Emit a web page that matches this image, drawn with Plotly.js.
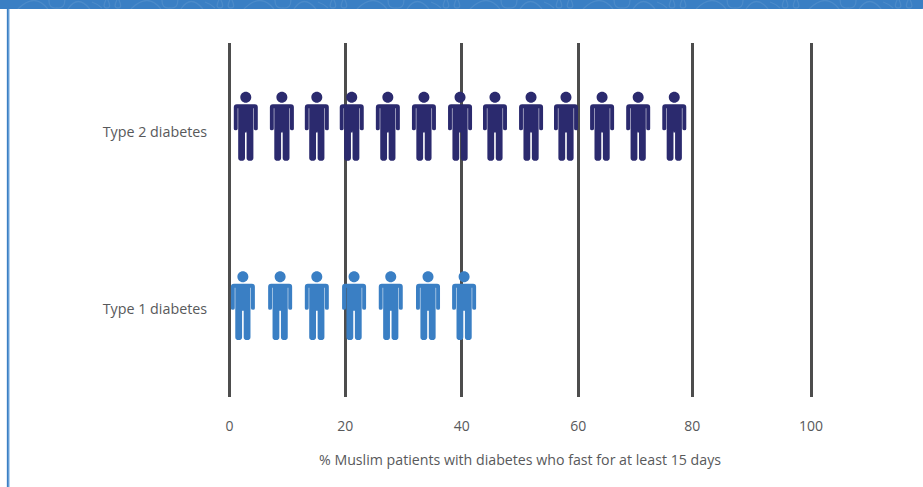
<!DOCTYPE html>
<html>
<head>
<meta charset="utf-8">
<script src="https://cdn.plot.ly/plotly-3.0.1.min.js"></script>
<style>html,body{margin:0;padding:0;background:#fff}#c{width:923px;height:487px}</style>
</head>
<body>
<div id="c"></div>
<script>
const categories = ["Type 1 diabetes", "Type 2 diabetes"];
const type2People = [2.9, 9.1, 15.1, 21.1, 27.3, 33.5, 39.7, 45.7, 51.9, 57.9, 64.1, 70.3, 76.5];
const type1People = [2.4, 8.8, 15.1, 21.5, 27.8, 34.2, 40.4];
const tickValues = [0.1, 20, 40, 60, 79.6, 100];
const tickLabels = ["0", "20", "40", "60", "80", "100"];
const xTitle = "% Muslim patients with diabetes who fast for at least 15 days";

const W = 923, H = 487, PAD = 0.5, PX_PER_UNIT = 5.82;
const L = 229 - PAD * PX_PER_UNIT, R = 811 + PAD * PX_PER_UNIT, T = 43, B = 397;
const DARK = "#2b2a6e", BLUE = "#3a7fc4", TEXT = "#58595b";

function personPath(top) {
  // offsets in pixels from the anchor; top = head centre above the anchor; y counted upward
  const p = (x, y) => x + "," + (top - y);
  const k = 3.04;
  return [
    "M", p(-5.5, 0), "C", p(-5.5, -k), p(-k, -5.5), p(0, -5.5), "C", p(k, -5.5), p(5.5, -k), p(5.5, 0),
    "C", p(5.5, k), p(k, 5.5), p(0, 5.5), "C", p(-k, 5.5), p(-5.5, k), p(-5.5, 0), "Z",
    "M", p(-12, 10), "Q", p(-12, 7), p(-9, 7), "L", p(9, 7), "Q", p(12, 7), p(12, 10),
    "L", p(12, 31.5), "Q", p(12, 33), p(10.2, 33), "Q", p(8.1, 33), p(8.1, 31.5),
    "L", p(8.1, 11), "L", p(7.6, 11), "L", p(7.6, 60.6), "Q", p(7.6, 63.4), p(4.2, 63.4),
    "Q", p(0.8, 63.4), p(0.8, 60.6), "L", p(0.8, 34), "L", p(-0.8, 34), "L", p(-0.8, 60.6),
    "Q", p(-0.8, 63.4), p(-4.2, 63.4), "Q", p(-7.6, 63.4), p(-7.6, 60.6), "L", p(-7.6, 11),
    "L", p(-8.1, 11), "L", p(-8.1, 31.5), "Q", p(-8.1, 33), p(-10.2, 33),
    "Q", p(-12, 33), p(-12, 31.5), "Z"
  ].join(" ");
}

function peopleShapes(values, category, color, top) {
  return values.map(v => ({
    type: "path", layer: "above", xref: "x", yref: "y",
    xsizemode: "pixel", ysizemode: "pixel", xanchor: v, yanchor: category,
    path: personPath(top), fillcolor: color, line: {width: 0}
  }));
}

const fx = px => (px - L) / (R - L);
const fy = py => (B - py) / (B - T);
const P = (x, y) => fx(x) + "," + fy(y);
function band(x0, y0, x1, y1, color) {
  return {type: "rect", xref: "paper", yref: "paper", layer: "below",
    x0: fx(x0), x1: fx(x1), y0: fy(y0), y1: fy(y1), fillcolor: color, line: {width: 0}};
}
function motif(o) {
  const strokes = [
    `M ${P(o + 18, 9)} Q ${P(o + 35, -8)} ${P(o + 48, 9)}`,
    `M ${P(o + 49, 0)} Q ${P(o + 49, 9)} ${P(o + 57, 8)} Q ${P(o + 65, 9)} ${P(o + 65, 0)}`,
    `M ${P(o + 68, 9)} Q ${P(o + 78, -6)} ${P(o + 90, 9)}`,
    `M ${P(o + 92, 2)} Q ${P(o + 98, 4)} ${P(o + 102, 8)}`,
    `M ${P(o + 106, 0)} Q ${P(o + 102, 8)} ${P(o + 107, 8)} Q ${P(o + 112, 8)} ${P(o + 108, 0)}`,
    `M ${P(o + 117, 0)} Q ${P(o + 113, 8)} ${P(o + 118, 8)} Q ${P(o + 123, 8)} ${P(o + 119, 0)}`
  ];
  return {type: "path", xref: "paper", yref: "paper", layer: "below", path: strokes.join(" "),
    line: {color: "rgba(255,255,255,0.09)", width: 1.3}};
}
const frame = [
  band(0, 0, W, 9, BLUE),
  band(7, 9, 9, H, BLUE),
  band(9, 9, 10, H, "#a9cdef")
];
for (let o = 0; o < W; o += 113) frame.push(motif(o));

const traces = [
  {type: "scatter", mode: "markers", name: "Type 2 diabetes", x: type2People,
   y: type2People.map(() => categories[1]), marker: {color: DARK, size: 2, symbol: "square"}, cliponaxis: false},
  {type: "scatter", mode: "markers", name: "Type 1 diabetes", x: type1People,
   y: type1People.map(() => categories[0]), marker: {color: BLUE, size: 2, symbol: "square"}, cliponaxis: false}
];

const layout = {
  width: W, height: H, showlegend: false,
  paper_bgcolor: "#fff", plot_bgcolor: "#fff",
  margin: {l: L, r: W - R, t: T, b: H - B, pad: 0},
  font: {family: "'Open Sans', sans-serif", size: 14, color: TEXT},
  xaxis: {
    range: [-PAD, 100 + PAD], tickmode: "array", tickvals: tickValues, ticktext: tickLabels,
    showgrid: true, gridcolor: "#4d4d4d", gridwidth: 3, zeroline: false, showline: false,
    ticks: "outside", ticklen: 16, tickcolor: "rgba(0,0,0,0)",
    tickfont: {size: 14, color: TEXT},
    title: {text: xTitle, font: {size: 14.2, color: TEXT}, standoff: 21}
  },
  yaxis: {
    type: "category", categoryorder: "array", categoryarray: categories, range: [-0.5, 1.5],
    showgrid: false, zeroline: false, showline: false,
    ticks: "outside", ticklen: 15, tickcolor: "rgba(0,0,0,0)",
    tickfont: {size: 14.3, color: TEXT}
  },
  shapes: frame
    .concat(peopleShapes(type2People, categories[1], DARK, 34.2))
    .concat(peopleShapes(type1People, categories[0], BLUE, 31.8))
};

Plotly.newPlot("c", traces, layout, {displayModeBar: false, staticPlot: true});
</script>
</body>
</html>
